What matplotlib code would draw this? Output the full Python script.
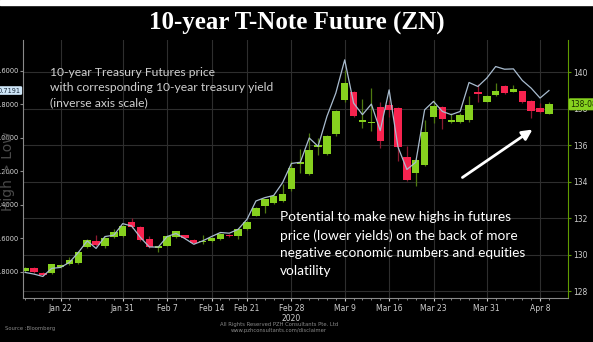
#!/usr/bin/env python3

import numpy as np
import pandas as pd
import matplotlib
matplotlib.use("Agg")
import matplotlib.pyplot as plt
from matplotlib.patches import Rectangle
from matplotlib.transforms import blended_transform_factory

# daily ZN candles (price, 32nds shown as decimals)
opens = [129.10, 129.26, 128.99, 128.99, 129.30, 129.48, 129.54, 130.41, 130.74, 130.47,
         130.96, 131.01, 131.78, 131.50, 130.85, 130.36, 130.47, 130.94, 131.07, 130.81,
         130.67, 130.74, 130.85, 131.09, 131.00, 131.39, 132.14, 132.67, 132.81, 132.94,
         133.58, 134.95, 134.44, 135.91, 135.53, 136.62, 138.46, 138.92, 137.30, 137.22,
         138.10, 138.21, 138.04, 135.34, 134.49, 134.91, 137.53, 138.08, 137.26, 137.26,
         137.37, 138.92, 138.40, 138.75, 139.26, 138.95, 138.97, 138.43, 138.02, 137.73]
closes = [129.26, 129.04, 128.88, 129.48, 129.45, 129.70, 130.14, 130.80, 130.52, 130.90,
          131.23, 131.56, 131.50, 130.79, 130.41, 130.47, 131.01, 131.27, 130.90, 130.63,
          130.74, 130.92, 131.14, 131.00, 131.39, 131.79, 132.58, 133.03, 133.21, 133.34,
          134.74, 135.11, 135.73, 136.00, 136.51, 137.90, 139.41, 137.62, 137.39, 137.28,
          136.26, 137.93, 135.89, 134.09, 135.22, 136.71, 138.17, 137.44, 137.37, 137.68,
          138.22, 138.81, 138.68, 138.97, 138.86, 139.08, 138.37, 137.86, 137.80, 138.25]
highs = [129.30, 129.30, 129.05, 129.50, 129.50, 129.86, 130.20, 130.85, 131.07, 130.95,
         131.39, 131.60, 132.00, 131.55, 131.03, 130.50, 131.05, 131.30, 131.10, 130.85,
         131.07, 130.95, 131.20, 131.12, 131.45, 131.82, 132.60, 133.05, 133.25, 133.85,
         135.13, 135.77, 136.68, 136.40, 136.55, 137.95, 140.14, 139.00, 138.54, 139.14,
         138.40, 138.50, 138.10, 135.95, 135.30, 137.40, 138.50, 138.15, 137.77, 137.75,
         138.72, 139.36, 138.75, 139.41, 139.30, 139.32, 139.00, 138.50, 138.32, 138.40]
lows = [129.05, 129.00, 128.85, 128.95, 129.25, 129.45, 129.50, 130.35, 130.45, 130.37,
        130.90, 130.95, 131.45, 130.75, 130.37, 130.14, 130.45, 130.90, 130.85, 130.60,
        130.60, 130.70, 130.80, 130.97, 130.85, 131.35, 132.10, 132.31, 132.78, 132.90,
        133.50, 134.49, 134.35, 135.44, 135.45, 136.49, 138.40, 137.55, 136.95, 136.77,
        135.86, 137.58, 135.13, 134.05, 133.76, 134.85, 137.24, 136.91, 137.20, 137.20,
        137.30, 138.40, 138.35, 138.70, 138.80, 138.90, 138.30, 137.50, 137.75, 137.70]
# 10-year treasury yield (%)
yields = [1.804, 1.814, 1.828, 1.780, 1.774, 1.744, 1.685, 1.616, 1.661, 1.590,
          1.582, 1.513, 1.527, 1.596, 1.652, 1.653, 1.590, 1.572, 1.602, 1.636,
          1.616, 1.590, 1.566, 1.570, 1.547, 1.487, 1.378, 1.358, 1.345, 1.269,
          1.154, 1.147, 1.002, 1.052, 0.873, 0.734, 0.536, 0.794, 0.863, 0.800,
          0.958, 0.715, 1.056, 1.190, 1.147, 0.834, 0.784, 0.844, 0.863, 0.844,
          0.671, 0.695, 0.645, 0.576, 0.592, 0.590, 0.659, 0.705, 0.764, 0.7191]

holidays = ["2020-01-20", "2020-02-17"]
tick_dates = ["2020-01-22", "2020-01-31", "2020-02-07", "2020-02-14", "2020-02-21",
              "2020-02-28", "2020-03-09", "2020-03-16", "2020-03-23", "2020-03-31",
              "2020-04-08"]
tick_labels = ["Jan 22", "Jan 31", "Feb 7", "Feb 14", "Feb 21", "Feb 28\n2020",
               "Mar 9", "Mar 16", "Mar 23", "Mar 31", "Apr 8"]
price_ticks = [128, 130, 132, 134, 136, 138, 140]
yield_ticks = [0.6, 0.8, 1.0, 1.2, 1.4, 1.6, 1.8]

days = pd.bdate_range("2020-01-15", "2020-04-09")
days = days[~days.isin(pd.to_datetime(holidays))]
x = np.arange(len(days))
tick_pos = [days.get_loc(pd.Timestamp(d)) for d in tick_dates]

opens = np.array(opens)
closes = np.array(closes)
up = closes >= opens
green = "#86d11e"
red = "#f7234f"
cols = [green if u else red for u in up]
wick_cols = ["#4f7a10" if u else "#8a1a30" for u in up]

fig = plt.figure(figsize=(5.93, 3.42), dpi=100, facecolor="black")
ax = fig.add_axes([0.0388, 0.1287, 0.9191, 0.7544], facecolor="black")
ax2 = ax.twinx()
ax2.set_facecolor("none")

# candles
ax.vlines(x, lows, highs, color=wick_cols, lw=0.9, zorder=2)
body_low = np.minimum(opens, closes)
body_h = np.maximum(np.abs(closes - opens), 0.06)
ax.bar(x, body_h, bottom=body_low, width=0.84, color=cols, zorder=3)

ax.set_xlim(-0.23, 61.15)
ax.set_ylim(127.62, 141.78)
ax.yaxis.tick_right()
ax.set_yticks(price_ticks)
ax.set_yticklabels([str(p) for p in price_ticks])
ax.set_xticks(tick_pos)
ax.set_xticklabels(tick_labels)
ax.set_xticks(x, minor=True)
ax.tick_params(axis="x", colors="#cfcfcf", labelsize=5.5, length=2, pad=2)
ax.tick_params(axis="x", which="minor", colors="#9a9a9a", length=1.5)
ax.tick_params(axis="y", colors="#5f9a00", labelcolor="#cfcfcf", labelsize=5.5,
               length=2, pad=2)
ax.grid(True, color="#2e2e2e", lw=0.8)
ax.set_axisbelow(True)
for s in ["top", "left"]:
    ax.spines[s].set_visible(False)
ax.spines["right"].set_color("#5f9a00")
ax.spines["bottom"].set_color("#8a8a8a")

# yield line, inverted scale on the left
ax2.plot(x, yields, color="#a9bccf", lw=0.9, zorder=5)
ax2.set_ylim(1.9565, 0.4176)
ax2.yaxis.tick_left()
ax2.set_yticks(yield_ticks)
ax2.set_yticklabels([f"{v:.4f}" for v in yield_ticks])
ax2.tick_params(axis="y", colors="#8a8a8a", labelcolor="#d8d8d8", labelsize=4.8,
                length=2, pad=1.2)
for s in ["top", "right", "bottom"]:
    ax2.spines[s].set_visible(False)
ax2.spines["left"].set_color("#8a8a8a")
fig.text(0.013, 0.5, "High > Low", rotation=90, ha="center", va="center",
         color="#4a4a4a", fontsize=10, zorder=0)

# last value tags
tl = blended_transform_factory(ax2.transAxes, ax2.transData)
ax2.text(-0.004, yields[-1], f"{yields[-1]:.4f}", transform=tl, ha="right", va="center",
         fontsize=4.8, color="#1a2a3a",
         bbox=dict(boxstyle="round,pad=0.2", fc="#cfe6f8", ec="none"))
tr = blended_transform_factory(ax.transAxes, ax.transData)
ax.text(1.004, closes[-1], "138-08", transform=tr, ha="left", va="center",
        fontsize=5.5, color="#1a2a00",
        bbox=dict(boxstyle="round,pad=0.2", fc=green, ec="none"))

# notes
ax.text(0.0495, 0.895, "10-year Treasury Futures price\nwith corresponding 10-year treasury yield\n(inverse axis scale)",
        transform=ax.transAxes, ha="left", va="top", fontsize=8.7, color="#d0d0d0",
        family="Lato", linespacing=1.45)
fig.text(0.472, 0.382, "Potential to make new highs in futures\nprice (lower yields) on the back of more\nnegative economic numbers and equities\nvolatility",
         ha="left", va="top", fontsize=9.8, color="white", family="Lato", linespacing=1.55)
ax.annotate("", xy=(0.939, 0.659), xytext=(0.802, 0.461), xycoords="axes fraction",
            arrowprops=dict(arrowstyle="-|>,head_length=0.6,head_width=0.3",
                            color="white", lw=2))

fig.text(0.5, 0.93, "10-year T-Note Future (ZN)", ha="center", va="center",
         fontsize=18, fontweight="bold", color="white", family="Liberation Serif")
fig.patches.append(Rectangle((0, 1 - 5 / 342), 1, 5 / 342, transform=fig.transFigure,
                             color="white", zorder=0))

fig.text(0.008, 0.035, "Source :Bloomberg", fontsize=3.8, color="#8a8a8a", ha="left")
fig.text(0.47, 0.03, "All Rights Reserved PZH Consultants Pte. Ltd\nwww.pzhconsultants.com/disclaimer",
         fontsize=3.8, color="#8a8a8a", ha="center", linespacing=1.3)

fig.savefig("out.png", dpi=100, facecolor="black")
